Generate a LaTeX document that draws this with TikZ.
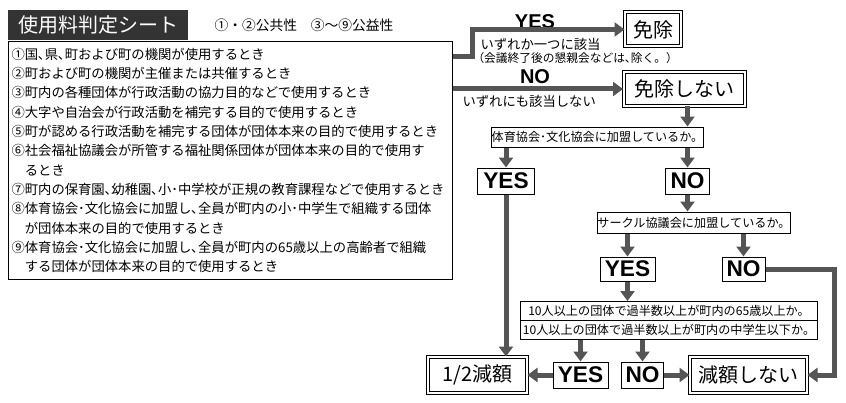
\documentclass[tikz,border=0pt]{standalone}
\usepackage{fontspec}
\setmainfont{Noto Sans CJK JP}
\newfontfamily\answerfont{Liberation Sans}
\usetikzlibrary{arrows.meta}
\definecolor{flowgray}{HTML}{555555}
\definecolor{titledark}{HTML}{333333}
\tikzset{every picture/.style={line width=0.75pt}}
\tikzset{
  flowline/.style={draw=flowgray, line width=3.75pt},
  flowarrow/.style={flowline, -{Triangle[width=10.5pt,length=7.5pt]}},
  answerbox/.style={draw, inner sep=0pt, font=\answerfont\bfseries\fontsize{17}{17}\selectfont},
  resultbox/.style={draw, double, double distance=1.5pt, inner sep=0pt, font=\fontsize{15}{15}\selectfont},
  askbox/.style={draw, inner sep=0pt, font=\fontsize{9.1}{9.1}\selectfont},
  notetext/.style={inner sep=0pt, font=\fontsize{10}{10}\selectfont},
  armlabel/.style={inner sep=0pt, font=\answerfont\bfseries\fontsize{15}{15}\selectfont},
}
\begin{document}
\begin{tikzpicture}[x=0.75pt,y=0.75pt,yscale=-1,xscale=1]
\useasboundingbox (0,0) rectangle (846,403);

% Title
\node[fill=titledark, text=white, minimum width=135pt, minimum height=22.5pt, inner sep=0pt, font=\fontsize{15}{15}\selectfont] (title) at (98,25) {使用料判定シート};
% Text Node
\node[notetext, font=\fontsize{10.3}{10.3}\selectfont] (subtitle) at (304,25) {①・②公共性　③〜⑨公益性};

% Conditions
\node[draw, minimum width=333pt, minimum height=177.75pt, inner sep=0pt] (condbox) at (230,160.5) {};
\node[anchor=north west, inner sep=0pt, align=left, font=\fontsize{10}{14.5}\selectfont] (condtext) at (11,47.5) {%
①国､県､町および町の機関が使用するとき\\
②町および町の機関が主催または共催するとき\\
③町内の各種団体が行政活動の協力目的などで使用するとき\\
④大字や自治会が行政活動を補完する目的で使用するとき\\
⑤町が認める行政活動を補完する団体が団体本来の目的で使用するとき\\
⑥社会福祉協議会が所管する福祉関係団体が団体本来の目的で使用す\\
\hspace*{1em}るとき\\
⑦町内の保育園､幼稚園､小･中学校が正規の教育課程などで使用するとき\\
⑧体育協会･文化協会に加盟し､全員が町内の小･中学生で組織する団体\\
\hspace*{1em}が団体本来の目的で使用するとき\\
⑨体育協会･文化協会に加盟し､全員が町内の65歳以上の高齢者で組織\\
\hspace*{1em}する団体が団体本来の目的で使用するとき};

% Results
\node[resultbox, minimum width=42pt, minimum height=25.5pt] (menjo) at (653,29.5) {免除};
\node[resultbox, minimum width=90.75pt, minimum height=25.5pt] (menjonot) at (684,89) {免除しない};
\node[resultbox, minimum width=74.25pt, minimum height=27pt] (half) at (477.5,375) {1/2減額};
\node[resultbox, minimum width=87.75pt, minimum height=27pt] (reducenot) at (748.5,375) {減額しない};

% Questions
\node[askbox, minimum width=158.25pt, minimum height=15pt] (askfed) at (597.5,137) {体育協会･文化協会に加盟しているか。};
\node[askbox, minimum width=141pt, minimum height=15.75pt] (askcircle) at (694,222.5) {サークル協議会に加盟しているか。};
\node[askbox, minimum width=222.75pt, minimum height=14.25pt] (askelder) at (669,311) {10人以上の団体で過半数以上が町内の65歳以上か。};
\node[askbox, minimum width=222.75pt, minimum height=14.25pt] (askjunior) at (669,330) {10人以上の団体で過半数以上が町内の中学生以下か。};

% Answers
\node[answerbox, minimum width=42.75pt, minimum height=19.5pt] (yesfed) at (506,181) {YES};
\node[answerbox, minimum width=33pt, minimum height=19.5pt] (nofed) at (687.5,181) {NO};
\node[answerbox, minimum width=41.25pt, minimum height=18pt] (yescircle) at (627.5,269) {YES};
\node[answerbox, minimum width=32.25pt, minimum height=18pt] (nocircle) at (743.5,269) {NO};
\node[answerbox, minimum width=41.25pt, minimum height=19.5pt] (yesage) at (580.5,375) {YES};
\node[answerbox, minimum width=31.5pt, minimum height=19.5pt] (noage) at (642.5,375) {NO};

% Text Node
\node[armlabel] (yeslabel) at (535,21.5) {YES};
\node[notetext] (yesnote) [anchor=west] at (480,44.5) {いずれか一つに該当};
\node[inner sep=0pt, font=\fontsize{8.8}{8.8}\selectfont] (yesaside) [anchor=west] at (472,58.5) {（会議終了後の懇親会などは､除く。）};
\node[armlabel] (nolabel) at (535,76.5) {NO};
\node[notetext] (nonote) [anchor=west] at (462,101) {いずれにも該当しない};

% Connectors
\coordinate (yesbend) at (472,57);
\coordinate (nocorner) at (834,269);
\draw[flowarrow] (condbox.east |- yesbend) -- (yesbend) |- (menjo.west);
\draw[flowarrow] (condbox.east |- menjonot.west) -- (menjonot.west);
\draw[flowarrow] (menjonot.south -| nofed) -- (askfed.north -| nofed);
\draw[flowarrow] (askfed.south -| yesfed) -- (yesfed.north);
\draw[flowarrow] (askfed.south -| nofed) -- (nofed.north);
\draw[flowarrow] (yesfed.south) -- (half.north -| yesfed);
\draw[flowarrow] (nofed.south) -- (askcircle.north -| nofed);
\draw[flowarrow] (askcircle.south -| yescircle) -- (yescircle.north);
\draw[flowarrow] (askcircle.south -| nocircle) -- (nocircle.north);
\draw[flowarrow] (nocircle.east) -- (nocorner) |- (reducenot.east);
\draw[flowarrow] (yescircle.south) -- (askelder.north -| yescircle);
\draw[flowarrow] (askjunior.south -| yesage) -- (yesage.north);
\draw[flowarrow] (askjunior.south -| noage) -- (noage.north);
\draw[flowarrow] (yesage.west) -- (half.east);
\draw[flowarrow] (noage.east) -- (reducenot.west);
\end{tikzpicture}
\end{document}
